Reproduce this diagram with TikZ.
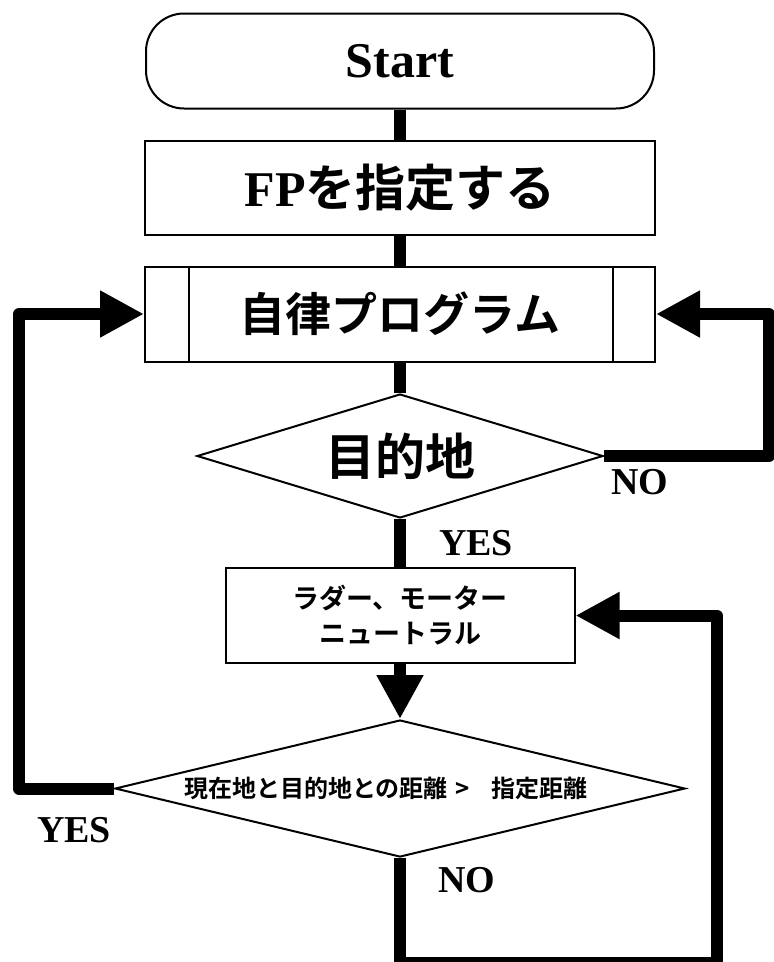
\documentclass[tikz,border=0pt]{standalone}
\usepackage{fontspec}
\setmainfont{Liberation Serif}
\newfontfamily\jp{Noto Sans CJK JP}[BoldFont={Noto Sans CJK JP Bold}]
\usetikzlibrary{shapes.geometric,arrows.meta}
\begin{document}
\begin{tikzpicture}[x=1pt,y=-1pt,
  box/.style={draw,line width=2pt,rectangle,inner sep=0pt,align=center},
  dia/.style={draw,line width=2pt,diamond,inner sep=0pt,align=center},
  conn/.style={line width=12pt,line join=round},
  arr/.style={conn,-{Triangle[length=44pt,width=44pt]}},
  lbl/.style={font=\bfseries\fontsize{38}{38}\selectfont,inner sep=0pt}]
\clip (0,0) rectangle (774,962);
\fill[white] (0,0) rectangle (774,962);
% nodes
\node[box,rounded corners=38pt,minimum width=508pt,minimum height=95pt,
      font=\bfseries\fontsize{50}{50}\selectfont] (start) at (400,61) {Start};
\node[box,minimum width=510pt,minimum height=94pt,
      font=\bfseries\fontsize{50}{50}\selectfont] (fp) at (400,188) {FP{\jp を指定する}};
\node[box,minimum width=510pt,minimum height=95pt,
      font=\jp\bfseries\fontsize{46}{46}\selectfont] (prog) at (400,314) {自律プログラム};
\draw[line width=2pt] ([xshift=45pt]prog.north west) -- ([xshift=45pt]prog.south west);
\draw[line width=2pt] ([xshift=-43pt]prog.north east) -- ([xshift=-43pt]prog.south east);
\node[dia,minimum width=406pt,minimum height=124pt,aspect=3.27,
      font=\jp\bfseries\fontsize{50}{50}\selectfont] (d1) at (400,456) {目的地};
\node[box,minimum width=349pt,minimum height=95pt,
      font=\jp\bfseries\fontsize{27}{35}\selectfont] (box2) at (400,615.5) {ラダー、モーター\\ニュートラル};
\node[dia,minimum width=570pt,minimum height=137pt,aspect=4.16,
      font=\jp\bfseries\fontsize{24}{24}\selectfont] (d2) at (400,788.5)
      {現在地と目的地との距離\hspace{8pt}>\hspace{22pt}指定距離\hspace{28pt}};
% helper coordinates
\coordinate (rr) at (769,0);
\coordinate (ll) at (19,0);
\coordinate (bl) at (400,963);
\coordinate (br) at (717,963);
% connectors
\draw[conn] (start.south) -- (fp.north);
\draw[conn] (fp.south) -- (prog.north);
\draw[conn] (prog.south) -- (d1.north);
\draw[conn] (d1.south) -- (box2.north);
\draw[arr] (box2.south) -- (d2.north);
\draw[arr] (d1.east) -| (rr |- prog.east) -- (prog.east);
\draw[arr] (d2.west) -| (ll |- prog.west) -- (prog.west);
\draw[arr] (d2.south) -- (bl) -- (br) -- (br |- box2.east) -- (box2.east);
% labels
\node[lbl] (no1) at (640,482) {NO};
\node[lbl] (yes1) at (476,543) {YES};
\node[lbl] (yes2) at (74,830) {YES};
\node[lbl] (no2) at (467,880) {NO};
\end{tikzpicture}
\end{document}
